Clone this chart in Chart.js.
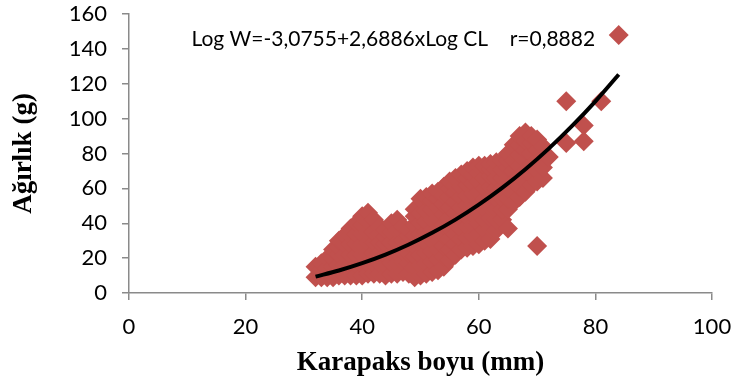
<!DOCTYPE html>
<html lang="tr">
<head>
<meta charset="UTF-8">
<title>Ağırlık - Karapaks boyu</title>
<style>
  html, body { margin: 0; padding: 0; background: #fff; }
  .chart_box { width: 736px; height: 383px; }
</style>
</head>
<body>
<div class="chart_box">
  <canvas id="lwChart" width="736" height="383"></canvas>
</div>

<script src="https://cdn.jsdelivr.net/npm/chart.js"></script>
<script>
// carapace length (mm) columns of the cloud, and the weights (g) read at each one
const lengthMM = [32, 33, 34, 35, 36, 37, 38, 39, 40, 41, 42, 43, 44, 45, 46, 47, 48, 49, 50, 51,
                  52, 53, 54, 55, 56, 57, 58, 59, 60, 61, 62, 63, 64, 65, 66, 67, 68, 69, 70, 71];
const weightG = [
  [9, 15], [9, 13, 17], [9, 14, 20], [9, 15, 20, 25],
  [10, 16, 22, 26, 30], [10, 16, 22, 28, 33], [10, 16, 22, 28, 33, 37], [10, 16, 22, 28, 34, 40],
  [10, 16, 22, 28, 34, 39, 44], [11, 17, 23, 29, 35, 41, 46], [11, 17, 23, 29, 35, 42], [11, 17, 23, 29, 34, 38],
  [10, 16, 22, 28, 32, 36], [11, 17, 23, 29, 35, 40], [11, 17, 23, 29, 36, 42], [12, 18, 24, 30, 35, 38],
  [11, 17, 23, 29, 33, 36], [9, 15, 21, 27, 33, 39, 44, 48], [10, 16, 22, 28, 34, 40, 46, 54], [11, 17, 23, 29, 35, 41, 47, 55],
  [12, 18, 24, 30, 36, 42, 48, 53, 57], [13, 19, 25, 31, 37, 43, 49, 54, 58], [15, 21, 27, 33, 39, 45, 51, 56, 61], [19, 25, 31, 37, 43, 49, 55, 60, 64],
  [22, 28, 34, 40, 46, 52, 58, 62, 66], [25, 31, 37, 43, 49, 55, 61, 68], [26, 32, 38, 44, 50, 56, 62, 66, 70], [27, 33, 39, 45, 51, 57, 63, 68, 72],
  [28, 34, 40, 46, 52, 58, 64, 69, 73], [30, 36, 42, 48, 54, 60, 66, 73], [31, 37, 43, 49, 55, 61, 67, 71, 74], [36, 42, 48, 54, 60, 66, 71, 75],
  [42, 48, 54, 60, 66, 71, 76], [48, 54, 60, 66, 72, 76, 80], [52, 58, 64, 70, 76, 81, 85], [55, 61, 67, 73, 79, 85, 90],
  [58, 64, 70, 76, 82, 87, 92], [62, 68, 74, 80, 86, 90], [64, 70, 76, 82, 88], [66, 72, 78, 84]
];
// stray points outside the main cloud
const outlierLength = [65, 70, 72, 75, 75, 78, 78, 81, 84];
const outlierWeight = [37, 27, 78, 110, 86, 96, 87, 110, 148];

// fitted curve Log W = -3.0755 + 2.6886 Log CL
const fitLength = [32, 36, 40, 44, 48, 52, 56, 60, 64, 68, 72, 76, 80, 84];
const fitWeight = [9.4, 12.9, 17.1, 22.0, 27.8, 34.5, 42.1, 50.7, 60.3, 71.0, 82.8, 95.8, 109.9, 125.3];

const xTicks = [0, 20, 40, 60, 80, 100];
const yTicks = [0, 20, 40, 60, 80, 100, 120, 140, 160];

const equationText = 'Log W=-3,0755+2,6886xLog CL    r=0,8882';

let scatterPts = [];
lengthMM.forEach((x, i) => {
  weightG[i].forEach(w => scatterPts.push({ x: x, y: w }));
});
outlierLength.forEach((x, i) => scatterPts.push({ x: x, y: outlierWeight[i] }));
let fitPts = fitLength.map((x, i) => ({ x: x, y: fitWeight[i] }));

// writes the regression equation inside the plot
const equationLabel = {
  id: 'equationLabel',
  afterDraw(chart) {
    const ctx = chart.ctx;
    const px = chart.scales.x.getPixelForValue(10.7);
    const py = chart.scales.y.getPixelForValue(141.5);
    ctx.save();
    ctx.font = '21px Lato';
    ctx.fillStyle = '#000';
    ctx.textBaseline = 'alphabetic';
    ctx.fillText(equationText, px, py);
    ctx.restore();
  }
};

const axisGrey = '#8a8a8a';
const tickFont = { family: 'Lato', size: 22 };
const titleFont = { family: 'Liberation Serif', size: 27, weight: 'bold' };

new Chart(document.getElementById('lwChart'), {
  type: 'scatter',
  data: {
    datasets: [
      {
        type: 'line',
        data: fitPts,
        borderColor: '#000',
        borderWidth: 4,
        pointRadius: 0,
        fill: false,
        cubicInterpolationMode: 'monotone',
        order: 0
      },
      {
        data: scatterPts,
        pointStyle: 'rectRot',
        pointRadius: 10,
        backgroundColor: '#C0504D',
        borderColor: '#C0504D',
        borderWidth: 0,
        order: 1
      }
    ]
  },
  options: {
    responsive: false,
    animation: false,
    layout: { padding: { top: 14, right: 24, bottom: 4, left: 8 } },
    plugins: { legend: { display: false }, tooltip: { enabled: false } },
    scales: {
      x: {
        type: 'linear',
        min: 0, max: 100,
        afterBuildTicks: (s) => { s.ticks = xTicks.map(v => ({ value: v })); },
        ticks: { font: tickFont, color: '#000', padding: 14 },
        grid: { drawOnChartArea: false, drawTicks: true, tickLength: 7, color: axisGrey, lineWidth: 1.5 },
        border: { color: axisGrey, width: 1.5 },
        title: { display: true, text: 'Karapaks boyu (mm)', font: titleFont, color: '#000', padding: { top: 0, bottom: 0 } },
        afterFit: (s) => { s.height = 86; s.paddingLeft = 0; s.paddingRight = 0; }
      },
      y: {
        type: 'linear',
        min: 0, max: 160,
        afterBuildTicks: (s) => { s.ticks = yTicks.map(v => ({ value: v })); },
        ticks: { font: tickFont, color: '#000', padding: 15 },
        grid: { drawOnChartArea: false, drawTicks: true, tickLength: 7, color: axisGrey, lineWidth: 1.5 },
        border: { color: axisGrey, width: 1.5 },
        title: { display: true, text: 'Ağırlık (g)', font: titleFont, color: '#000', padding: { top: 0, bottom: 4 } },
        afterFit: (s) => { s.width = 121; s.paddingTop = 0; s.paddingBottom = 0; }
      }
    }
  },
  plugins: [equationLabel]
});
</script>
</body>
</html>
